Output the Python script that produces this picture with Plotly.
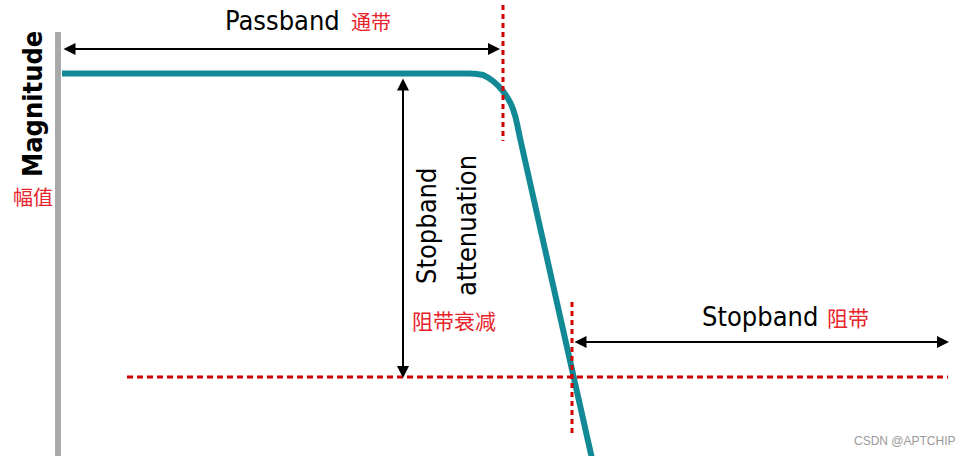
import plotly.graph_objects as go

# Filter response curve (frequency axis, magnitude axis; y grows downward like the drawing)
freq = [62, 470, 477, 483, 488, 493, 498, 502, 505, 508, 510.5, 513, 515.5, 517.5, 520, 595]
magnitude = [73.5, 73.5, 74, 75, 77.5, 81, 85.5, 90, 94, 98.5, 103, 109, 117, 126, 138, 472]

passband_edge = 503
stopband_edge = 572
pass_level = 74
stop_level = 377
axis_x = 58

TEAL = "#128a96"
RED = "#d40000"
TXT_RED = "#e8232b"
NARROW = "Liberation Sans Narrow, DejaVu Sans Condensed, Arial Narrow, sans-serif"
CJK = "Noto Sans CJK SC, sans-serif"

fig = go.Figure()
fig.add_trace(go.Scatter(x=freq, y=magnitude, mode="lines",
                         line=dict(color=TEAL, width=6, shape="linear", simplify=False),
                         hoverinfo="skip", showlegend=False))

shapes = [
    dict(type="line", x0=axis_x, x1=axis_x, y0=32, y1=456, line=dict(color="#a9a9a9", width=6)),
    dict(type="line", x0=passband_edge, x1=passband_edge, y0=5, y1=141, line=dict(color=RED, width=3, dash="5px,4px")),
    dict(type="line", x0=stopband_edge, x1=stopband_edge, y0=302, y1=434, line=dict(color=RED, width=3, dash="5px,4px")),
    dict(type="line", x0=127, x1=948, y0=stop_level, y1=stop_level, line=dict(color=RED, width=3, dash="6px,4px")),
]

arrows = [
    (62, 49, 500, 49),
    (403, 77, 403, 378),
    (573, 342, 949, 342),
]
ann = []
for x0, y0, x1, y1 in arrows:
    ann.append(dict(x=x1, y=y1, ax=x0, ay=y0, xref="x", yref="y", axref="x", ayref="y",
                    showarrow=True, arrowhead=2, startarrowhead=2, arrowside="end+start",
                    arrowsize=1.2, startarrowsize=1.2, arrowwidth=2, arrowcolor="black", text=""))

def txt(x, y, s, size, color="black", family=NARROW, angle=0, bold=False, xanchor="center"):
    if bold:
        s = "<b>" + s + "</b>"
    ann.append(dict(x=x, y=y, text=s, showarrow=False, xref="x", yref="y", textangle=angle,
                    xanchor=xanchor, yanchor="middle",
                    font=dict(size=size, color=color, family=family)))

txt(282, 20, "Passband", 27)
txt(371, 21, "通带", 20, TXT_RED, CJK)
txt(32, 104, "Magnitude", 27, angle=-90, bold=True)
txt(33, 196, "幅值", 20, TXT_RED, CJK)
txt(426, 226, "Stopband", 27, angle=-90)
txt(466, 226, "attenuation", 27, angle=-90)
txt(454, 320, "阻带衰减", 21, TXT_RED, CJK)
txt(760, 316, "Stopband", 27)
txt(848, 317, "阻带", 21, TXT_RED, CJK)
txt(905, 441, "CSDN @APTCHIP", 12, "#9a9a9a", "Liberation Sans, Arial, sans-serif")

fig.update_layout(
    width=968, height=456, margin=dict(l=0, r=0, t=0, b=0),
    paper_bgcolor="white", plot_bgcolor="white",
    xaxis=dict(range=[0, 968], visible=False, fixedrange=True),
    yaxis=dict(range=[456, 0], visible=False, fixedrange=True),
    shapes=shapes, annotations=ann,
)
fig.write_html("out.html", config=dict(displayModeBar=False),
               post_script="document.body.style.margin='0';document.body.style.overflow='hidden';")
